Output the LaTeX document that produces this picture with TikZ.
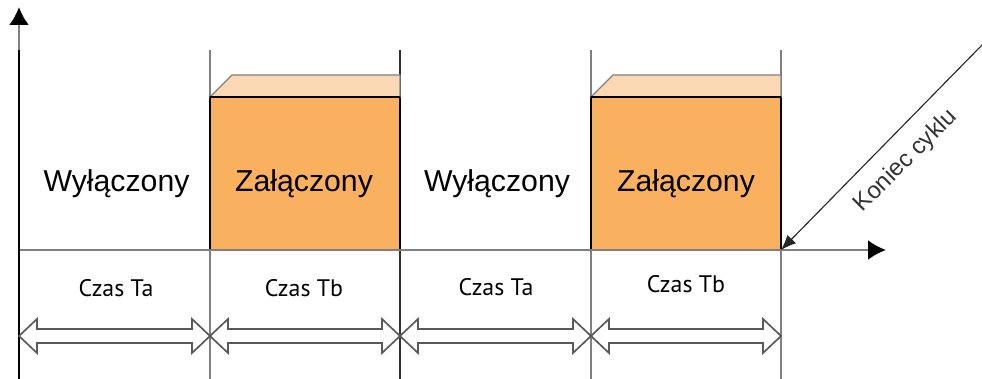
\documentclass[tikz,border=0pt]{standalone}
\usepackage{fontspec}
\setmainfont{Liberation Sans}
\newfontfamily\czasfont{PT Sans}
\usetikzlibrary{arrows.meta,calc}

\definecolor{onfront}{HTML}{F9B15F}
\definecolor{ontop}{HTML}{FAD8B3}
\definecolor{linegray}{HTML}{808080}
\definecolor{arrgray}{HTML}{5A5A5A}

\newcommand{\czasarrow}[2]{%
  \draw[czasarr] (#1) -- ++(18,-17) -- ++(0,10) -- ($(#2)+(-18,-7)$)
    -- ++(0,-10) -- (#2) -- ++(-18,17) -- ++(0,-10) -- ($(#1)+(18,7)$)
    -- ++(0,10) -- cycle;}

\begin{document}
\begin{tikzpicture}[x=0.025cm,y=-0.025cm,
    wyl/.style={font=\fontsize{21.5}{25}\selectfont,anchor=base},
    czas/.style={font=\czasfont\fontsize{17}{20}\selectfont,anchor=base},
    tick/.style={draw=linegray,line width=1.2pt},
    onbox/.style={draw=black,line width=1.3pt,fill=onfront,anchor=south west,
      minimum width=4.75cm,minimum height=3.825cm,inner sep=0pt,outer sep=0pt},
    topface/.style={fill=ontop,draw=linegray,line width=0.8pt},
    czasarr/.style={draw=arrgray,fill=white,line width=1.2pt,line join=miter},
    axistip/.style={-{Latex[length=0.45cm,width=0.5cm,color=black]}}]
    \useasboundingbox (0,0) rectangle (982,379);

    \foreach \x [count=\i from 0] in {19,210,400,591,781} {
        \coordinate (t\i) at (\x,250);
        \coordinate (a\i) at (\x,336);
    }
    \coordinate (ybot) at (19,379);
    \coordinate (yend) at (19,7);
    \coordinate (xend) at (886,250);
    \coordinate (kon) at (984,43);

    % period borders
    \foreach \i in {1,3,4}
        \draw[tick] (t\i) ++(0,-200) -- ++(0,329);
    \draw[draw=black!80,line width=1.5pt] (t2) ++(0,-200) -- ++(0,329);

    \node[onbox] (on1) at (t1) {};
    \node[onbox] (on2) at (t3) {};
    \draw[topface] (on1.north west) -- ++(22,-22) -- ++(168,0) -- (on1.north east) -- cycle;
    \draw[topface] (on2.north west) -- ++(22,-22) -- ++(168,0) -- (on2.north east) -- cycle;
    \draw[black,line width=1.3pt] (on1.north west) -- (on1.north east);
    \draw[black,line width=1.3pt] (on2.north west) -- (on2.north east);

    % axes
    \draw[draw=linegray,line width=1.8pt,axistip] (t0) -- (xend);
    \draw[draw=linegray,line width=1.8pt,axistip] (ybot) -- (yend);
    \draw[black,line width=2pt] (19,50) -- (ybot);

    \node[wyl] (off1) at (116.5,192) {Wyłączony};
    \node[wyl] (onl1) at (304,192) {Załączony};
    \node[wyl] (off2) at (497,192) {Wyłączony};
    \node[wyl] (onl2) at (686,192) {Załączony};

    \node[czas] (ta1) at (116,297) {Czas Ta};
    \node[czas] (tb1) at (304,297) {Czas Tb};
    \node[czas] (ta2) at (496,296) {Czas Ta};
    \node[czas] (tb2) at (686,293) {Czas Tb};

    \czasarrow{a0}{a1}
    \czasarrow{a1}{a2}
    \czasarrow{a2}{a3}
    \czasarrow{a3}{a4}

    % end of cycle
    \draw[black!85,line width=0.8pt,-{Latex[length=0.38cm,width=0.3cm]}] (kon) -- (t4);
    \node[rotate=45,font=\fontsize{17}{20}\selectfont,text=black!80] (koniec) at (906,161) {Koniec cyklu};
\end{tikzpicture}
\end{document}
